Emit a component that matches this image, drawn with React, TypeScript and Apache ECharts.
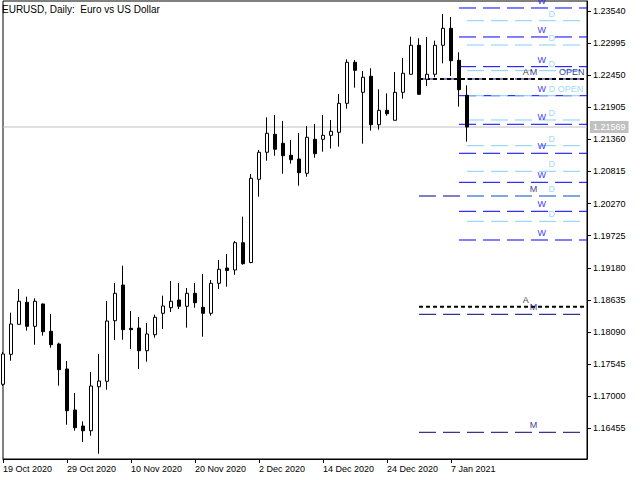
import React, { useEffect, useRef } from "react";
import * as echarts from "echarts";

const dateLabels = [
  "19 Oct 2020", "20 Oct 2020", "21 Oct 2020", "22 Oct 2020", "23 Oct 2020",
  "26 Oct 2020", "27 Oct 2020", "28 Oct 2020", "29 Oct 2020", "30 Oct 2020",
  "2 Nov 2020", "3 Nov 2020", "4 Nov 2020", "5 Nov 2020", "6 Nov 2020",
  "9 Nov 2020", "10 Nov 2020", "11 Nov 2020", "12 Nov 2020", "13 Nov 2020",
  "16 Nov 2020", "17 Nov 2020", "18 Nov 2020", "19 Nov 2020", "20 Nov 2020",
  "23 Nov 2020", "24 Nov 2020", "25 Nov 2020", "26 Nov 2020", "27 Nov 2020",
  "30 Nov 2020", "1 Dec 2020", "2 Dec 2020", "3 Dec 2020", "4 Dec 2020",
  "7 Dec 2020", "8 Dec 2020", "9 Dec 2020", "10 Dec 2020", "11 Dec 2020",
  "14 Dec 2020", "15 Dec 2020", "16 Dec 2020", "17 Dec 2020", "18 Dec 2020",
  "21 Dec 2020", "22 Dec 2020", "23 Dec 2020", "24 Dec 2020", "28 Dec 2020",
  "29 Dec 2020", "30 Dec 2020", "31 Dec 2020", "4 Jan 2021", "5 Jan 2021",
  "6 Jan 2021", "7 Jan 2021", "8 Jan 2021", "11 Jan 2021",
];

const opens = [
  1.17202, 1.17711, 1.1822, 1.18594, 1.18186, 1.18565, 1.18101, 1.17886, 1.17462, 1.16766,
  1.16494, 1.16414, 1.17161, 1.17253, 1.18281, 1.18887, 1.18152, 1.18157, 1.17772, 1.18044,
  1.18407, 1.18502, 1.18633, 1.18526, 1.18746, 1.18509, 1.18407, 1.18916, 1.19176, 1.19142,
  1.19605, 1.19269, 1.20681, 1.2114, 1.21445, 1.21292, 1.21089, 1.21026, 1.20783, 1.2136,
  1.2136, 1.21428, 1.21479, 1.21971, 1.22667, 1.22158, 1.2243, 1.21608, 1.21852, 1.21683,
  1.22158, 1.22464, 1.22956, 1.22379, 1.22464, 1.22956, 1.23244, 1.22701, 1.22107,
];
const highs = [
  1.1775, 1.18417, 1.18819, 1.18689, 1.18662, 1.18573, 1.18395, 1.17908, 1.17597, 1.17054,
  1.16574, 1.17411, 1.17716, 1.18616, 1.18921, 1.19215, 1.18446, 1.18344, 1.18242, 1.18383,
  1.18706, 1.18955, 1.18921, 1.18836, 1.18921, 1.19074, 1.18972, 1.19312, 1.19413, 1.19634,
  1.20047, 1.20771, 1.21179, 1.21734, 1.21773, 1.21671, 1.21348, 1.21467, 1.21586, 1.2162,
  1.21773, 1.21688, 1.22129, 1.22718, 1.22706, 1.2252, 1.22565, 1.22209, 1.22141, 1.22503,
  1.2274, 1.23102, 1.23075, 1.23097, 1.23034, 1.23487, 1.23436, 1.22837, 1.22277,
];
const lows = [
  1.17173, 1.17602, 1.18215, 1.18112, 1.17874, 1.18027, 1.17823, 1.17178, 1.16516, 1.16414,
  1.16222, 1.16329, 1.16024, 1.1711, 1.17954, 1.17959, 1.17801, 1.17462, 1.17585, 1.17993,
  1.1814, 1.18429, 1.1848, 1.18163, 1.18502, 1.1801, 1.18366, 1.18819, 1.18858, 1.1906,
  1.19232, 1.19256, 1.20386, 1.20997, 1.21082, 1.20776, 1.20946, 1.20573, 1.20725, 1.21048,
  1.2115, 1.21204, 1.21235, 1.2188, 1.22236, 1.21286, 1.21506, 1.21523, 1.21761, 1.2168,
  1.22049, 1.2246, 1.22112, 1.22265, 1.22413, 1.2265, 1.22435, 1.21914, 1.2132,
];
const closes = [
  1.17716, 1.18225, 1.18611, 1.18186, 1.18611, 1.18095, 1.17874, 1.1745, 1.16754, 1.16465,
  1.16414, 1.17173, 1.17258, 1.18276, 1.18746, 1.18129, 1.18129, 1.17772, 1.18056, 1.18339,
  1.18531, 1.18611, 1.18526, 1.18746, 1.18587, 1.18407, 1.18916, 1.19154, 1.19133, 1.19605,
  1.19249, 1.20698, 1.2114, 1.21462, 1.21191, 1.21082, 1.21014, 1.20793, 1.21394, 1.21116,
  1.21428, 1.21496, 1.21971, 1.22667, 1.22531, 1.22413, 1.21608, 1.21852, 1.21795, 1.22158,
  1.22481, 1.22956, 1.22124, 1.22464, 1.22956, 1.23244, 1.22694, 1.22202, 1.21569,
];

const priceTicks = [
  1.16455, 1.17, 1.17545, 1.1809, 1.18635, 1.1918, 1.19725, 1.2027, 1.20815, 1.2136,
  1.21905, 1.2245, 1.22995, 1.2354,
];
const currentPrice = 1.21569;

const dailyLevels = [1.23373, 1.22961, 1.22525, 1.221, 1.21688, 1.21252, 1.20817, 1.20398, 1.19968];
const dailyTexts = ["D", "D", "D", "D OPEN", "D", "D", "D", "D", "D"];
const weeklyLevels = [1.23589, 1.23097, 1.22593, 1.221, 1.21615, 1.21123, 1.2063, 1.20138, 1.19651];
const monthlyLevels = [1.22384, 1.20398, 1.1839, 1.16387];
const annualLevels = [1.22384, 1.18519];

const dailyStart = 58;
const weeklyStart = 57;
const monthlyStart = 52;
const annualStart = 52;
const futureSlots = 15;

const FONT = "'Liberation Sans', Arial, sans-serif";
const C_D = "#87CEFA";
const C_W = "#0000FF";
const C_M = "#000080";
const C_A = "#000000";

export default function App() {
  const ref = useRef<HTMLDivElement>(null);
  useEffect(() => {
    const chart = echarts.init(ref.current!, null, { renderer: "svg" });
    const categories = [
      ...dateLabels,
      ...Array.from({ length: futureSlots }, (_, k) => "future" + k),
    ];
    const lastIdx = categories.length - 1;
    const showIdx = (i: number) => i % 8 === 0 && i < dateLabels.length;

    const levelSeries = (levels: number[], start: number, color: string, width: number, dash: number[]) =>
      levels.map((p) => ({
        type: "line",
        data: [
          [start, p],
          [lastIdx, p],
        ],
        symbol: "none",
        silent: true,
        z: 2,
        lineStyle: { color, width, type: dash },
      }));

    const labelIdx = 67;
    const lab = (text: string, price: number, dx: number, color: string, align = "center") => ({
      value: [labelIdx, price],
      label: {
        show: true,
        position: "inside",
        formatter: text,
        color,
        align,
        offset: [dx, -7],
        fontSize: 9,
        fontFamily: FONT,
      },
    });

    const labels: any[] = [];
    annualLevels.forEach((p) => labels.push(lab("A", p, -13.2, C_A)));
    monthlyLevels.forEach((p) => labels.push(lab("M", p, -5.6, C_M)));
    labels.push(lab("OPEN", monthlyLevels[0], 20.1, C_M, "left"));
    weeklyLevels.forEach((p) => labels.push(lab("W", p, 2.8, C_W)));
    dailyLevels.forEach((p, i) =>
      labels.push(dailyTexts[i] === "D" ? lab("D", p, 12.8, C_D) : lab(dailyTexts[i], p, 9.8, C_D, "left"))
    );

    const option: any = {
      animation: false,
      backgroundColor: "#ffffff",
      title: {
        text: "EURUSD, Daily:  Euro vs US Dollar",
        left: 2,
        top: 4,
        padding: 0,
        textStyle: { fontSize: 10, fontWeight: "normal", color: "#000", fontFamily: FONT },
      },
      grid: {
        left: 2,
        right: 53,
        top: 1,
        bottom: 21,
        show: true,
        borderColor: "#000",
        borderWidth: 1,
        backgroundColor: "transparent",
      },
      xAxis: {
        type: "category",
        data: categories,
        boundaryGap: false,
        axisLine: { show: true, lineStyle: { color: "#000", width: 1 } },
        axisTick: { show: true, length: 4, interval: (i: number) => showIdx(i), lineStyle: { color: "#000" } },
        axisLabel: {
          interval: (i: number) => showIdx(i),
          align: "left",
          margin: 5,
          fontSize: 9,
          color: "#000",
          fontFamily: FONT,
        },
        splitLine: { show: false },
      },
      yAxis: {
        type: "value",
        position: "right",
        min: 1.15934,
        max: 1.237076,
        scale: true,
        splitLine: { show: false },
        axisLine: { show: true, lineStyle: { color: "#000" } },
        axisTick: { show: true, length: 4, customValues: priceTicks, lineStyle: { color: "#000" } },
        axisLabel: {
          customValues: priceTicks,
          formatter: (v: number) => v.toFixed(5),
          fontSize: 9,
          margin: 6,
          color: "#000",
          fontFamily: FONT,
        },
      },
      series: [
        {
          type: "line",
          data: [
            [0, currentPrice],
            [lastIdx, currentPrice],
          ],
          symbol: "none",
          silent: true,
          z: 1,
          lineStyle: { color: "#C0C0C0", type: "solid", width: 1 },
          endLabel: {
            show: true,
            distance: 3,
            formatter: () => currentPrice.toFixed(5),
            backgroundColor: "#C0C0C0",
            color: "#ffffff",
            padding: [2, 3, 1, 3],
            fontSize: 9,
            fontFamily: FONT,
          },
        },
        ...levelSeries(monthlyLevels, monthlyStart, C_M, 1, [17, 7]),
        ...levelSeries(weeklyLevels, weeklyStart, C_W, 1, [17, 7]),
        ...levelSeries(dailyLevels, dailyStart, C_D, 1, [17, 7]),
        ...levelSeries(annualLevels, annualStart, C_A, 2, [4, 3]),
        {
          type: "candlestick",
          data: opens.map((o, i) => [o, closes[i], lows[i], highs[i]]),
          barWidth: 4,
          z: 5,
          silent: true,
          itemStyle: {
            color: "#ffffff",
            color0: "#000000",
            borderColor: "#000000",
            borderColor0: "#000000",
            borderWidth: 1,
          },
        },
        {
          type: "scatter",
          data: labels,
          symbolSize: 1,
          itemStyle: { color: "transparent" },
          silent: true,
          z: 6,
        },
      ],
    };
    chart.setOption(option);
    return () => chart.dispose();
  }, []);
  return (
    <div
      ref={ref}
      style={{ position: "absolute", left: 0, top: 0, width: 640, height: 480, background: "#fff" }}
    />
  );
}
